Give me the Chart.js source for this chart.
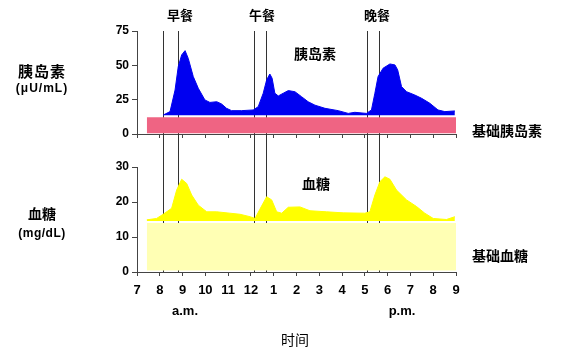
<!DOCTYPE html>
<html><head><meta charset="utf-8">
<script src="https://cdn.jsdelivr.net/npm/chart.js@4"></script>
<style>
body{margin:0;width:566px;height:347px;background:#fff;position:relative;overflow:hidden;font-family:"Noto Sans CJK SC",sans-serif;}
canvas{position:absolute;left:0;}
.t{position:absolute;font-weight:bold;color:#000;white-space:nowrap;line-height:1;transform:translate(-50%,-50%);}
.l{position:absolute;font-weight:bold;color:#000;white-space:nowrap;line-height:1;transform:translateY(-50%);}
.e{font-family:"Liberation Sans",Arial,sans-serif;}
</style></head><body>
<canvas id="c1" width="566" height="150" style="top:0"></canvas>
<canvas id="c2" width="566" height="197" style="top:150px"></canvas>

<div class="t" style="left:42px;top:70px;font-size:15px;letter-spacing:1px">胰岛素</div>
<div class="t e" style="left:42px;top:88px;font-size:12px;letter-spacing:1px">(μU/mL)</div>
<div class="t" style="left:42px;top:213px;font-size:14px">血糖</div>
<div class="t e" style="left:42px;top:233px;font-size:12px;letter-spacing:0.5px">(mg/dL)</div>
<div class="t" style="left:315px;top:53px;font-size:14px">胰岛素</div>
<div class="t" style="left:316px;top:183px;font-size:14px">血糖</div>
<div class="l" style="left:472px;top:130px;font-size:14px">基础胰岛素</div>
<div class="l" style="left:472px;top:255px;font-size:14px">基础血糖</div>
<div class="t" style="left:180px;top:14px;font-size:13px">早餐</div>
<div class="t" style="left:262px;top:14px;font-size:13px">午餐</div>
<div class="t" style="left:377px;top:14px;font-size:13px">晚餐</div>
<div class="t e" style="left:185px;top:310px;font-size:13px">a.m.</div>
<div class="t e" style="left:402px;top:310px;font-size:13px">p.m.</div>
<div class="t" style="left:295px;top:339px;font-size:14px;font-weight:normal">时间</div>

<script>
// ---- data ----
const insulinHours = [8.15, 8.45, 8.67, 8.81, 8.96, 9.11, 9.25, 9.47, 9.69, 9.98, 10.2, 10.5, 10.71, 10.93, 11.15, 11.59, 12.1, 12.32, 12.54, 12.69, 12.83, 12.93, 13.05, 13.2, 13.42, 13.64, 13.93, 14.22, 14.51, 14.81, 15.25, 15.83, 16.27, 16.56, 17.07, 17.29, 17.44, 17.58, 17.8, 18.1, 18.32, 18.44, 18.61, 18.83, 19.19, 19.49, 19.85, 20.21, 20.51, 20.95];
const insulinValues = [13.8, 16.3, 32, 49, 57.6, 60.7, 55, 41.8, 33.3, 24.8, 23, 23.5, 21.9, 18.7, 17, 17, 17.5, 19.9, 29.7, 39.4, 43.7, 40.6, 29.7, 27.7, 29.7, 31.6, 30.8, 27.2, 23.5, 21, 18.7, 17, 15, 15.8, 15, 17.5, 29.7, 41.8, 47.9, 51, 50.3, 46.7, 34.5, 30.8, 28.4, 26, 22.4, 17.5, 16.3, 16.8];
const glucoseHours = [7.43, 7.86, 8.15, 8.52, 8.74, 8.96, 9.18, 9.4, 9.69, 10.06, 10.5, 11.08, 11.52, 11.96, 12.18, 12.39, 12.69, 12.91, 13.13, 13.35, 13.64, 14.15, 14.59, 15.32, 16.05, 17.0, 17.22, 17.44, 17.66, 17.88, 18.1, 18.39, 18.83, 19.27, 19.63, 20.0, 20.58, 20.95];
const glucoseValues = [14.9, 15.3, 16.5, 18.2, 23.4, 26.5, 25.3, 22, 19.1, 17.2, 17.2, 16.8, 16.5, 15.8, 15.3, 17.9, 21.5, 20.6, 17.2, 16.8, 18.5, 18.6, 17.5, 17.2, 16.9, 16.8, 17.2, 22, 25.8, 27.2, 26.5, 23.4, 20.6, 18.7, 16.8, 15.3, 15, 15.8];
const basalHours = [7.43, 21];
const basalInsulin = [12.2, 12.2];
const basalGlucose = [14, 14];
const mealHours = [8.15, 8.81, 12.13, 12.66, 17.1, 17.63];
const xTickHours = [7, 8, 9, 10, 11, 12, 13, 14, 15, 16, 17, 18, 19, 20, 21];
const xTickLabels = ['7', '8', '9', '10', '11', '12', '1', '2', '3', '4', '5', '6', '7', '8', '9'];
const insulinTicks = [0, 25, 50, 75];
const glucoseTicks = [0, 10, 20, 30];

const pts = (xs, ys) => xs.map((x, i) => ({x, y: ys[i]}));
const tickFont = {family: '"Liberation Sans", Arial, sans-serif', size: 13, weight: 'bold'};
const axisColor = '#444';

function mealPlugin(fromTop) {
  return {
    id: 'meals',
    beforeDatasetsDraw(chart) {
      const {ctx, chartArea, scales: {x}} = chart;
      ctx.save();
      ctx.strokeStyle = '#333';
      ctx.lineWidth = 1;
      mealHours.forEach(h => {
        const px = Math.round(x.getPixelForValue(h)) + 0.5;
        ctx.beginPath();
        if (fromTop) { ctx.moveTo(px, chartArea.top); ctx.lineTo(px, chart.height); }
        else { ctx.moveTo(px, 0); ctx.lineTo(px, chartArea.bottom); }
        ctx.stroke();
      });
      ctx.restore();
    }
  };
}

function makeX(showLabels, height) {
  return {
    type: 'linear', min: 7, max: 21,
    afterBuildTicks: s => { s.ticks = xTickHours.map(v => ({value: v})); },
    afterFit: s => { s.height = height; },
    grid: {drawOnChartArea: false, drawTicks: true, tickLength: 4, color: axisColor},
    border: {display: true, color: axisColor},
    ticks: {display: showLabels, padding: 7, maxRotation: 0, autoSkip: false, color: '#000', font: tickFont,
      callback: (v) => { const i = xTickHours.indexOf(v); return i >= 0 ? xTickLabels[i] : ''; }}
  };
}
function makeY(max, ticks) {
  return {
    type: 'linear', min: 0, max: max,
    afterBuildTicks: s => { s.ticks = ticks.map(v => ({value: v})); },
    afterFit: s => { s.width = 137; },
    grid: {drawOnChartArea: false, drawTicks: true, tickLength: 5, color: axisColor},
    border: {display: true, color: axisColor},
    ticks: {padding: 3, color: '#000', font: {family: '"Liberation Sans", Arial, sans-serif', size: 12, weight: 'bold'}}
  };
}
const common = {
  responsive: false, animation: false, devicePixelRatio: 1,
  plugins: {legend: {display: false}, tooltip: {enabled: false}},
  elements: {point: {radius: 0}, line: {tension: 0, borderWidth: 0}}
};

new Chart(document.getElementById('c1'), {
  type: 'line',
  data: {datasets: [
    {data: pts(insulinHours, insulinValues), backgroundColor: '#0000f0', borderColor: '#0000f0', borderWidth: 1, fill: {value: 13.6}},
    {data: pts(basalHours, basalInsulin), backgroundColor: '#ef6483', borderColor: 'rgba(0,0,0,0)', fill: {value: 0.6}}
  ]},
  options: Object.assign({}, common, {
    layout: {padding: {top: 31, right: 110, left: 0, bottom: 0}},
    scales: {x: makeX(false, 16), y: makeY(75, insulinTicks)}
  }),
  plugins: [mealPlugin(true)]
});

new Chart(document.getElementById('c2'), {
  type: 'line',
  data: {datasets: [
    {data: pts(glucoseHours, glucoseValues), backgroundColor: '#ffff00', borderColor: '#ffff00', borderWidth: 1, fill: {value: 14.6}},
    {data: pts(basalHours, basalGlucose), backgroundColor: '#ffffb4', borderColor: 'rgba(0,0,0,0)', fill: {value: 0.4}}
  ]},
  options: Object.assign({}, common, {
    layout: {padding: {top: 17, right: 110, left: 0, bottom: 45}},
    scales: {x: makeX(true, 30), y: makeY(30, glucoseTicks)}
  }),
  plugins: [mealPlugin(false)]
});
</script>
</body></html>
